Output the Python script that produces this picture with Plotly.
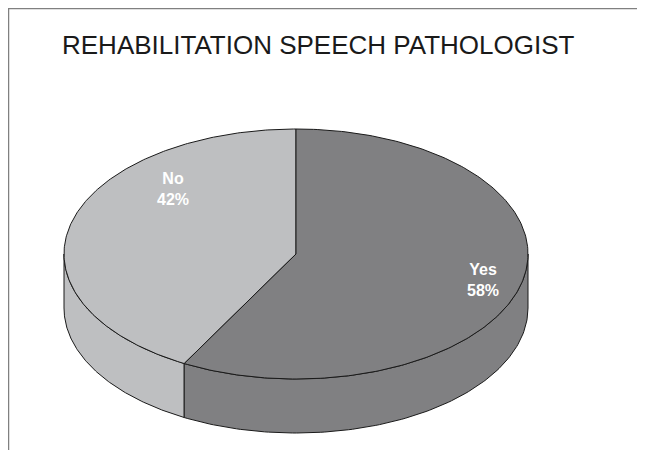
import numpy as np
import plotly.graph_objects as go

title = "REHABILITATION SPEECH PATHOLOGIST"
categories = ["No", "Yes"]
values = [42, 58]
colors = ["#BEBFC1", "#808082"]

# geometry (pixels)
cx, cy, a, b, depth = 296, 254, 232, 125, 54
start = 90.0  # degrees, first slice begins at 12 o'clock, counterclockwise

def rim(p1, p2, dy=0, n=120):
    ph = np.radians(np.linspace(p1, p2, n))
    return cx + a * np.cos(ph), cy - b * np.sin(ph) + dy

total = sum(values)
angles = []
cur = start
for v in values:
    span = 360.0 * v / total
    angles.append((cur, cur + span))
    cur += span

fig = go.Figure()
line = dict(color="#1a1a1a", width=1)

# side walls (front half: 180..360)
for (p1, p2), col in zip(angles, colors):
    lo, hi = max(p1, 180), min(p2, 360)
    if hi > lo:
        xt, yt = rim(lo, hi)
        xb, yb = rim(hi, lo, depth)
        fig.add_trace(go.Scatter(x=np.r_[xt, xb, xt[0]], y=np.r_[yt, yb, yt[0]],
                                 fill="toself", fillcolor=col, mode="lines", line=line,
                                 hoverinfo="skip", showlegend=False))

# top faces
for (p1, p2), col in zip(angles, colors):
    xa, ya = rim(p1, p2, n=240)
    fig.add_trace(go.Scatter(x=np.r_[cx, xa, cx], y=np.r_[cy, ya, cy],
                             fill="toself", fillcolor=col, mode="lines", line=line,
                             hoverinfo="skip", showlegend=False))

label_pos = [(173, 189), (483, 280)]
for cat, v, (lx, ly) in zip(categories, values, label_pos):
    fig.add_annotation(x=lx, y=ly, text=f"<b>{cat}<br>{v}%</b>", showarrow=False,
                       font=dict(family="Liberation Sans, Arial", size=16, color="white"))

fig.add_annotation(x=318, y=45, text=title, showarrow=False,
                   font=dict(family="Liberation Sans, Arial", size=26, color="#1a1a1a"))

# frame
fig.add_shape(type="path", path="M 8.5 470 L 8.5 8.5 L 670 8.5",
              line=dict(color="#808080", width=1.5))

# page body has an 8px margin: map axis units to window pixels
fig.update_layout(width=645, height=450, margin=dict(l=0, r=0, t=0, b=0),
                  paper_bgcolor="white", plot_bgcolor="white",
                  xaxis=dict(range=[8, 653], visible=False, fixedrange=True),
                  yaxis=dict(range=[458, 8], visible=False, fixedrange=True))
fig.write_html("out.html")
